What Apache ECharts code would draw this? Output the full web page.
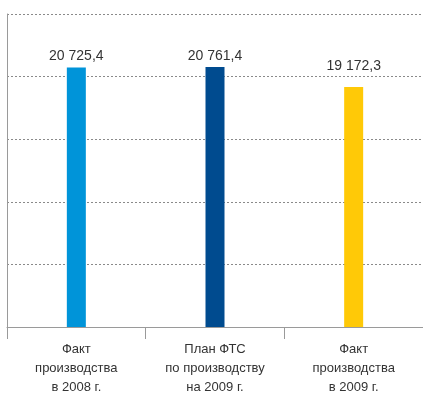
<!DOCTYPE html>
<html><head><meta charset="utf-8">
<script src="https://cdn.jsdelivr.net/npm/echarts@6/dist/echarts.min.js"></script>
<style>html,body{margin:0;padding:0;background:#fff}#c{width:423px;height:397px}</style>
</head><body><div id="c"></div>
<script>
const categories = ['Факт\nпроизводства\nв 2008 г.', 'План ФТС\nпо производству\nна 2009 г.', 'Факт\nпроизводства\nв 2009 г.'];
const values = [20725.4, 20761.4, 19172.3];
const barColors = ['#0094D9', '#004B8F', '#FFC907'];
const labelGaps = [4, 4, 14];
const yMin = 0, yMax = 25000, yInterval = 5000;

function fmt(v) {
  const parts = v.toFixed(1).split('.');
  return parts[0].replace(/\B(?=(\d{3})+(?!\d))/g, ' ') + ',' + parts[1];
}
const FONT = '"Liberation Sans", Arial, sans-serif';
const chart = echarts.init(document.getElementById('c'), null, {renderer: 'canvas'});
chart.setOption({
  animation: false,
  grid: {left: 7, top: 14, width: 419, height: 315, containLabel: false},
  xAxis: {
    type: 'category',
    data: categories,
    axisLine: {show: true, lineStyle: {color: '#9a9a9a', width: 1}},
    axisTick: {show: true, length: 12, alignWithLabel: false, lineStyle: {color: '#9a9a9a'}},
    axisLabel: {color: '#333', fontFamily: FONT, fontSize: 13, lineHeight: 19, margin: 13, interval: 0}
  },
  yAxis: {
    type: 'value', min: yMin, max: yMax, interval: yInterval,
    axisLine: {show: true, lineStyle: {color: '#9a9a9a', width: 1}},
    axisTick: {show: false},
    axisLabel: {show: false},
    splitLine: {show: true, lineStyle: {color: '#8a8a8a', type: [2, 2], width: 1}}
  },
  series: [{
    type: 'bar',
    barWidth: 19,
    data: values.map((v, i) => ({value: v, itemStyle: {color: barColors[i]}, label: {distance: labelGaps[i]}})),
    label: {show: true, position: 'top', color: '#333', fontFamily: FONT, fontSize: 14,
      formatter: p => fmt(p.value)}
  }]
});
</script></body></html>
